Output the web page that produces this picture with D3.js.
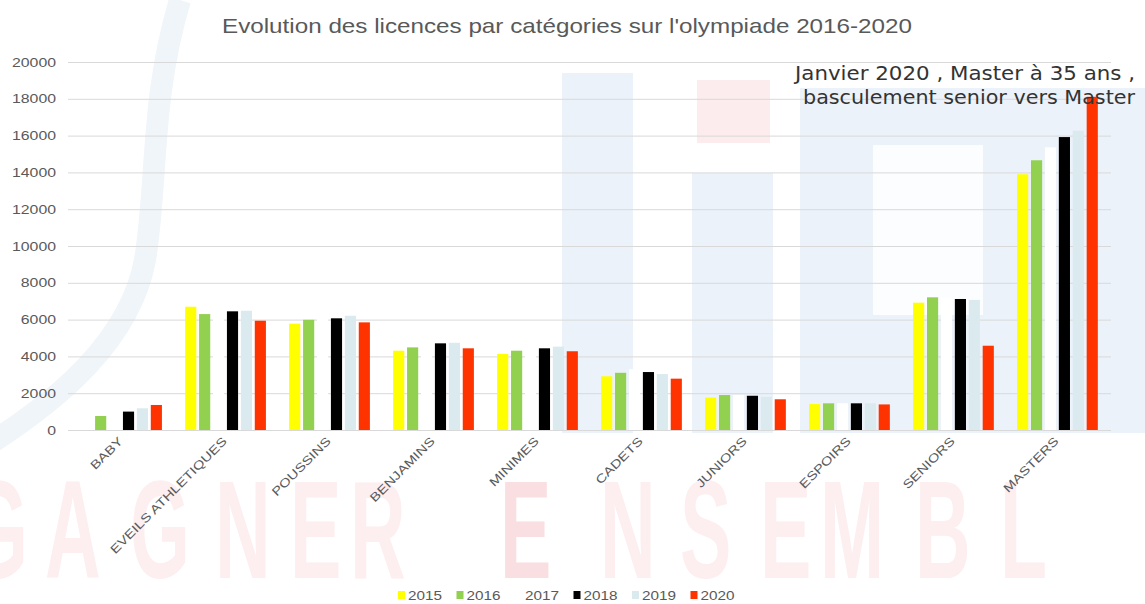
<!DOCTYPE html>
<html>
<head>
<meta charset="utf-8">
<script src="https://cdn.jsdelivr.net/npm/d3@7"></script>
<style>
  body { margin: 0; background: #fff; }
  svg { display: block; font-family: "Liberation Sans", Arial, sans-serif; }
</style>
</head>
<body>
<div id="chart"></div>
<script>
// Categories and yearly licence counts
const categories = ["BABY", "EVEILS ATHLETIQUES", "POUSSINS", "BENJAMINS", "MINIMES",
  "CADETS", "JUNIORS", "ESPOIRS", "SENIORS", "MASTERS"];
const years = ["2015", "2016", "2017", "2018", "2019", "2020"];
const v2015 = [0, 6700, 5780, 4310, 4130, 2920, 1760, 1410, 6920, 13900];
const v2016 = [760, 6300, 5990, 4490, 4310, 3110, 1900, 1450, 7210, 14660];
const v2017 = [900, 6500, 6100, 4750, 4500, 3300, 1900, 1450, 7200, 15360];
const v2018 = [1000, 6450, 6070, 4710, 4440, 3150, 1860, 1450, 7120, 15920];
const v2019 = [1180, 6480, 6210, 4740, 4530, 3040, 1810, 1450, 7070, 16270];
const v2020 = [1360, 5940, 5850, 4440, 4280, 2790, 1670, 1390, 4580, 18110];
const yTicks = [0, 2000, 4000, 6000, 8000, 10000, 12000, 14000, 16000, 18000, 20000];
const colors = ["#ffff00", "#92d050", "#ffffff", "#000000", "#dbeaee", "#ff3300"];

const series = [v2015, v2016, v2017, v2018, v2019, v2020];
const rows = categories.map((c, i) => ({ cat: c, values: years.map((y, j) => ({ year: y, value: series[j][i], color: colors[j] })) }));

const W = 1145, H = 604;
const margin = { top: 62, right: 34, bottom: 174, left: 68 };

const svg = d3.select("#chart").append("svg").attr("width", W).attr("height", H);

// faint watermark background (logo + slogan)
const bg = svg.append("g");
bg.append("path")
  .attr("d", "M-20,450 C60,400 130,340 145,260 C158,180 150,100 180,0")
  .attr("fill", "none").attr("stroke", "#f0f5f9").attr("stroke-width", 22);
[[562, 73, 71, 360], [692, 173, 81, 260], [800, 88, 345, 345]].forEach(r => {
  bg.append("rect").attr("x", r[0]).attr("y", r[1]).attr("width", r[2]).attr("height", r[3]).attr("fill", "#ecf2f9");
});
bg.append("rect").attr("x", 873).attr("y", 145).attr("width", 110).attr("height", 170).attr("fill", "#fcfdff");
bg.append("rect").attr("x", 697).attr("y", 80).attr("width", 73).attr("height", 63).attr("fill", "#fcecee");
const slogan = [["G", -32], ["A", 45], ["G", 130], ["N", 215], ["E", 290], ["R", 350],
  ["E", 500], ["N", 600], ["S", 680], ["E", 760], ["M", 820], ["B", 915], ["L", 1000]];
bg.selectAll("text.wm").data(slogan).join("text")
  .attr("class", "wm")
  .attr("transform", d => `translate(${d[1]},578) scale(0.55,1)`)
  .attr("font-size", 140).attr("font-weight", "bold")
  .attr("fill", (d, i) => i === 6 ? "#fadfe2" : "#fdeef0")
  .text(d => d[0]);

const x0 = d3.scaleBand().domain(categories).range([margin.left, W - margin.right])
  .paddingInner(0.17).paddingOuter(0.1);
const x1 = d3.scaleBand().domain(years).range([0, x0.bandwidth()]).padding(0.2);
const y = d3.scaleLinear().domain([0, 20000]).range([H - margin.bottom, margin.top]);

// grid + y axis
const yAxis = svg.append("g")
  .attr("transform", `translate(${margin.left},0)`)
  .call(d3.axisLeft(y).tickValues(yTicks).tickSize(-(W - margin.left - margin.right)).tickPadding(12).tickFormat(d3.format("d")));
yAxis.select(".domain").remove();
yAxis.selectAll(".tick line").attr("stroke", "#d9d9d9");
yAxis.selectAll(".tick text").attr("fill", "#595959").attr("font-size", 13)
  .attr("font-family", "'Liberation Sans', Arial, sans-serif")
  .attr("textLength", d => String(d).length * 8.8).attr("lengthAdjust", "spacingAndGlyphs");

// bars
const groups = svg.append("g").selectAll("g").data(rows).join("g")
  .attr("transform", d => `translate(${x0(d.cat)},0)`);
groups.selectAll("rect").data(d => d.values).join("rect")
  .attr("x", d => x1(d.year))
  .attr("width", x1.bandwidth())
  .attr("y", d => y(d.value))
  .attr("height", d => y(0) - y(d.value))
  .attr("fill", d => d.color);

// x labels, slanted and a bit stretched like the original
svg.append("g").selectAll("text").data(categories).join("text")
  .attr("transform", d => `translate(${x0(d) + x0.bandwidth() / 2 + 2},${H - margin.bottom + 12}) rotate(-45)`)
  .attr("text-anchor", "end")
  .attr("font-size", 12)
  .attr("fill", "#595959")
  .text(d => d)
  .each(function () {
    d3.select(this).attr("textLength", this.getComputedTextLength() * 1.25).attr("lengthAdjust", "spacingAndGlyphs");
  });

// title
svg.append("text")
  .attr("x", 567).attr("y", 33)
  .attr("text-anchor", "middle")
  .attr("font-size", 21)
  .attr("fill", "#595959")
  .attr("textLength", 690).attr("lengthAdjust", "spacingAndGlyphs")
  .text("Evolution des licences par catégories sur l'olympiade 2016-2020");

// annotation
const note = svg.append("text")
  .attr("text-anchor", "end")
  .attr("font-family", "'DejaVu Sans', Verdana, sans-serif")
  .attr("font-size", 19)
  .attr("fill", "#333");
note.append("tspan").attr("x", 1135).attr("y", 80)
  .attr("textLength", 340).attr("lengthAdjust", "spacingAndGlyphs")
  .text("Janvier 2020 , Master à 35 ans ,");
note.append("tspan").attr("x", 1135).attr("y", 104)
  .attr("textLength", 332).attr("lengthAdjust", "spacingAndGlyphs")
  .text("basculement senior vers Master");

// legend
const legend = svg.append("g").attr("transform", "translate(398,595)");
const item = legend.selectAll("g").data(years).join("g")
  .attr("transform", (d, i) => `translate(${i * 58.5},0)`);
item.append("rect").attr("x", 0).attr("y", -4).attr("width", 7).attr("height", 8)
  .attr("fill", (d, i) => colors[i]);
item.append("text").attr("x", 10).attr("y", 5)
  .attr("font-size", 13).attr("fill", "#595959")
  .attr("textLength", 34).attr("lengthAdjust", "spacingAndGlyphs")
  .text(d => d);
</script>
</body>
</html>
